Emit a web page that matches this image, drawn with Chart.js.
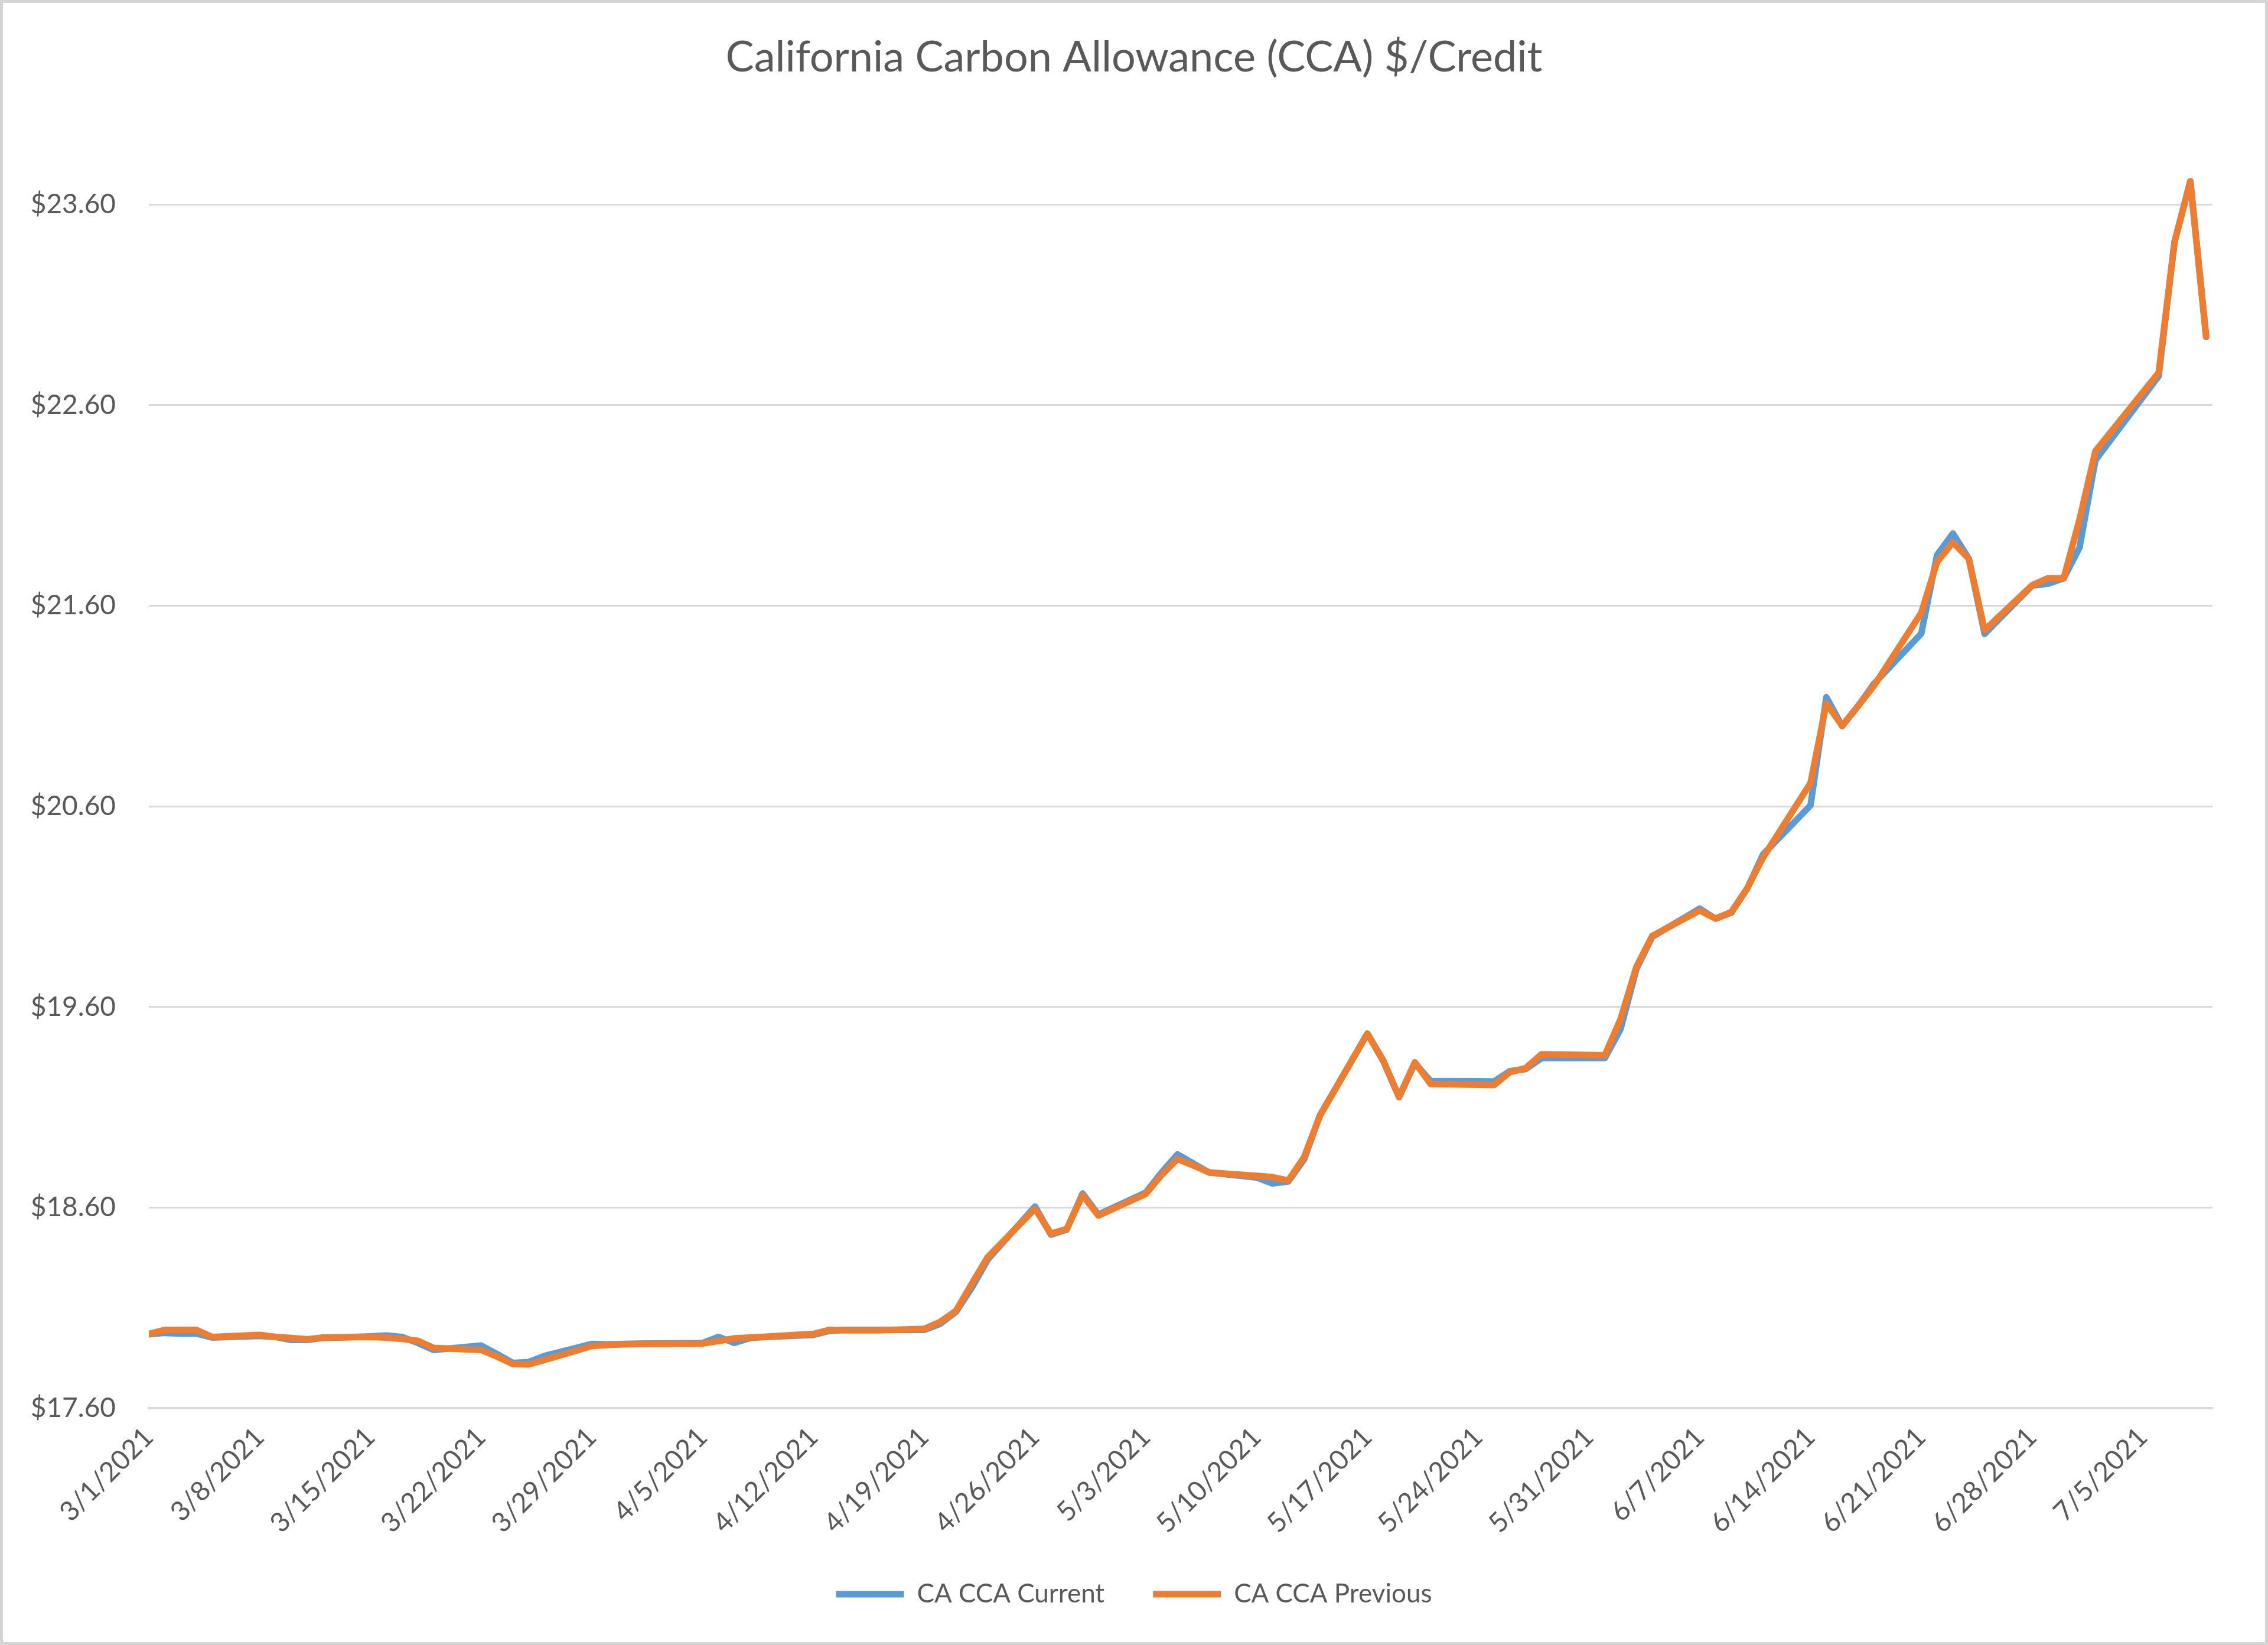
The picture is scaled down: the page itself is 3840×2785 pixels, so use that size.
<!DOCTYPE html>
<html>
<head>
    <title>California Carbon Allowance (CCA) $/Credit</title>
    <script src="https://cdn.jsdelivr.net/npm/chart.js"></script>
    <style>
        html, body { margin: 0; padding: 0; background: #ffffff; }
        #wrap { position: relative; width: 3840px; height: 2785px; }
        #frame { position: absolute; left: 0; top: 0; width: 3840px; height: 2785px;
                 box-sizing: border-box; border: 5px solid #d4d4d4; pointer-events: none; }
    </style>
</head>
<body>
    <div id="wrap">
        <canvas id="ccaChart" width="3840" height="2785"></canvas>
        <div id="frame"></div>
    </div>
    <script>
        // trading days shown in the chart
        const tradeDates = [
            '3/1/2021', '3/2/2021', '3/3/2021', '3/4/2021', '3/5/2021',
            '3/8/2021', '3/9/2021', '3/10/2021', '3/11/2021', '3/12/2021',
            '3/15/2021', '3/16/2021', '3/17/2021', '3/18/2021', '3/19/2021',
            '3/22/2021', '3/23/2021', '3/24/2021', '3/25/2021', '3/26/2021',
            '3/29/2021', '3/30/2021', '3/31/2021', '4/1/2021',
            '4/5/2021', '4/6/2021', '4/7/2021', '4/8/2021', '4/9/2021',
            '4/12/2021', '4/13/2021', '4/14/2021', '4/15/2021', '4/16/2021',
            '4/19/2021', '4/20/2021', '4/21/2021', '4/22/2021', '4/23/2021',
            '4/26/2021', '4/27/2021', '4/28/2021', '4/29/2021', '4/30/2021',
            '5/3/2021', '5/4/2021', '5/5/2021', '5/6/2021', '5/7/2021',
            '5/10/2021', '5/11/2021', '5/12/2021', '5/13/2021', '5/14/2021',
            '5/17/2021', '5/18/2021', '5/19/2021', '5/20/2021', '5/21/2021',
            '5/24/2021', '5/25/2021', '5/26/2021', '5/27/2021', '5/28/2021',
            '6/1/2021', '6/2/2021', '6/3/2021', '6/4/2021',
            '6/7/2021', '6/8/2021', '6/9/2021', '6/10/2021', '6/11/2021',
            '6/14/2021', '6/15/2021', '6/16/2021', '6/17/2021', '6/18/2021',
            '6/21/2021', '6/22/2021', '6/23/2021', '6/24/2021', '6/25/2021',
            '6/28/2021', '6/29/2021', '6/30/2021', '7/1/2021', '7/2/2021',
            '7/6/2021', '7/7/2021', '7/8/2021', '7/9/2021'
        ];

        const currentPrice = [
            17.968, 17.975, 17.972, 17.972, 17.952,
            17.960, 17.955, 17.940, 17.940, 17.950,
            17.958, 17.962, 17.955, 17.925, 17.890,
            17.912, 17.870, 17.825, 17.830, 17.860,
            17.920, 17.918, 17.920, 17.922,
            17.925, 17.955, 17.925, 17.950, 17.955,
            17.965, 17.985, 17.990, 17.990, 17.990,
            17.990, 18.020, 18.080, 18.200, 18.340,
            18.605, 18.465, 18.490, 18.670, 18.565,
            18.675, 18.775, 18.865, 18.820, 18.775,
            18.750, 18.720, 18.730, 18.840, 19.060,
            19.467, 19.330, 19.150, 19.320, 19.230,
            19.230, 19.228, 19.280, 19.290, 19.345,
            19.345, 19.490, 19.790, 19.950,
            20.090, 20.040, 20.070, 20.190, 20.360,
            20.605, 21.144, 21.000, 21.100, 21.210,
            21.462, 21.853, 21.960, 21.835, 21.460,
            21.700, 21.710, 21.737, 21.890, 22.325,
            22.745, 23.413, 23.716, 22.940
        ];

        const previousPrice = [
            17.970, 17.990, 17.990, 17.990, 17.955,
            17.965, 17.955, 17.950, 17.943, 17.952,
            17.955, 17.952, 17.945, 17.936, 17.900,
            17.890, 17.857, 17.820, 17.818, 17.840,
            17.910, 17.915, 17.918, 17.920,
            17.922, 17.935, 17.948, 17.952, 17.956,
            17.970, 17.990, 17.988, 17.988, 17.988,
            17.995, 18.030, 18.085, 18.220, 18.352,
            18.594, 18.470, 18.493, 18.662, 18.560,
            18.668, 18.763, 18.842, 18.810, 18.775,
            18.758, 18.752, 18.735, 18.851, 19.058,
            19.467, 19.334, 19.152, 19.324, 19.216,
            19.212, 19.211, 19.275, 19.295, 19.364,
            19.359, 19.540, 19.800, 19.954,
            20.081, 20.041, 20.073, 20.192, 20.345,
            20.716, 21.113, 21.002, 21.100, 21.200,
            21.565, 21.819, 21.916, 21.835, 21.479,
            21.702, 21.737, 21.737, 22.031, 22.370,
            22.762, 23.413, 23.716, 22.940
        ];

        const xTickLabels = [
            '3/1/2021', '3/8/2021', '3/15/2021', '3/22/2021', '3/29/2021',
            '4/5/2021', '4/12/2021', '4/19/2021', '4/26/2021', '5/3/2021',
            '5/10/2021', '5/17/2021', '5/24/2021', '5/31/2021', '6/7/2021',
            '6/14/2021', '6/21/2021', '6/28/2021', '7/5/2021'
        ];

        const yTickValues = [17.6, 18.6, 19.6, 20.6, 21.6, 22.6, 23.6];

        // days since 3/1/2021, used as the x value
        const dayIndex = (s) => {
            const [m, d, y] = s.split('/').map(Number);
            return (Date.UTC(y, m - 1, d) - Date.UTC(2021, 2, 1)) / 86400000;
        };

        const toPoints = (values) => tradeDates.map((s, i) => ({ x: dayIndex(s), y: values[i] }));

        const FONT = 'Lato, "Open Sans", sans-serif';
        const GREY = '#595959';

        const ctx = document.getElementById('ccaChart').getContext('2d');
        new Chart(ctx, {
            type: 'line',
            data: {
                datasets: [
                    {
                        label: 'CA CCA Current',
                        data: toPoints(currentPrice),
                        borderColor: '#5B9BD5',
                        backgroundColor: '#5B9BD5',
                        borderWidth: 11,
                        order: 1
                    },
                    {
                        label: 'CA CCA Previous',
                        data: toPoints(previousPrice),
                        borderColor: '#ED7D31',
                        backgroundColor: '#ED7D31',
                        borderWidth: 11,
                        order: 0
                    }
                ]
            },
            options: {
                responsive: false,
                animation: false,
                devicePixelRatio: 1,
                layout: { padding: { left: 0, right: 0, top: 0, bottom: 54 } },
                elements: {
                    point: { radius: 0, hoverRadius: 0 },
                    line: { tension: 0, borderJoinStyle: 'round', borderCapStyle: 'round' }
                },
                plugins: {
                    title: {
                        display: true,
                        text: 'California Carbon Allowance (CCA) $/Credit',
                        color: GREY,
                        font: { family: FONT, size: 72, weight: 'normal' },
                        padding: { top: 55, bottom: 120 }
                    },
                    legend: {
                        position: 'bottom',
                        labels: {
                            color: GREY,
                            font: { family: FONT, size: 44 },
                            usePointStyle: true,
                            pointStyle: 'line',
                            pointStyleWidth: 115,
                            padding: 82,
                            sort: (a, b) => a.datasetIndex - b.datasetIndex
                        }
                    },
                    tooltip: { enabled: false }
                },
                scales: {
                    x: {
                        type: 'linear',
                        min: 0,
                        max: 130.4,
                        afterBuildTicks: (scale) => {
                            scale.ticks = xTickLabels.map(s => ({ value: dayIndex(s) }));
                        },
                        afterFit: (scale) => { scale.height = 211; },
                        ticks: {
                            autoSkip: false,
                            maxRotation: 45,
                            minRotation: 45,
                            padding: 14,
                            color: GREY,
                            font: { family: FONT, size: 46 },
                            callback: (value, index) => xTickLabels[index]
                        },
                        grid: { display: false },
                        border: { display: true, color: '#d9d9d9', width: 4 }
                    },
                    y: {
                        min: 17.6,
                        max: 23.85,
                        afterBuildTicks: (scale) => {
                            scale.ticks = yTickValues.map(v => ({ value: v }));
                        },
                        afterFit: (scale) => { scale.width = 252; },
                        ticks: {
                            padding: 56,
                            color: GREY,
                            font: { family: FONT, size: 46 },
                            callback: (value) => '$' + value.toFixed(2)
                        },
                        grid: { color: '#d9d9d9', lineWidth: 3, drawTicks: false },
                        border: { display: false }
                    },
                    // empty right-hand strip so the plot ends where the reference does
                    yRight: {
                        position: 'right',
                        afterFit: (scale) => { scale.width = 94; },
                        ticks: { display: false },
                        grid: { display: false },
                        border: { display: false }
                    }
                }
            }
        });
    </script>
</body>
</html>
